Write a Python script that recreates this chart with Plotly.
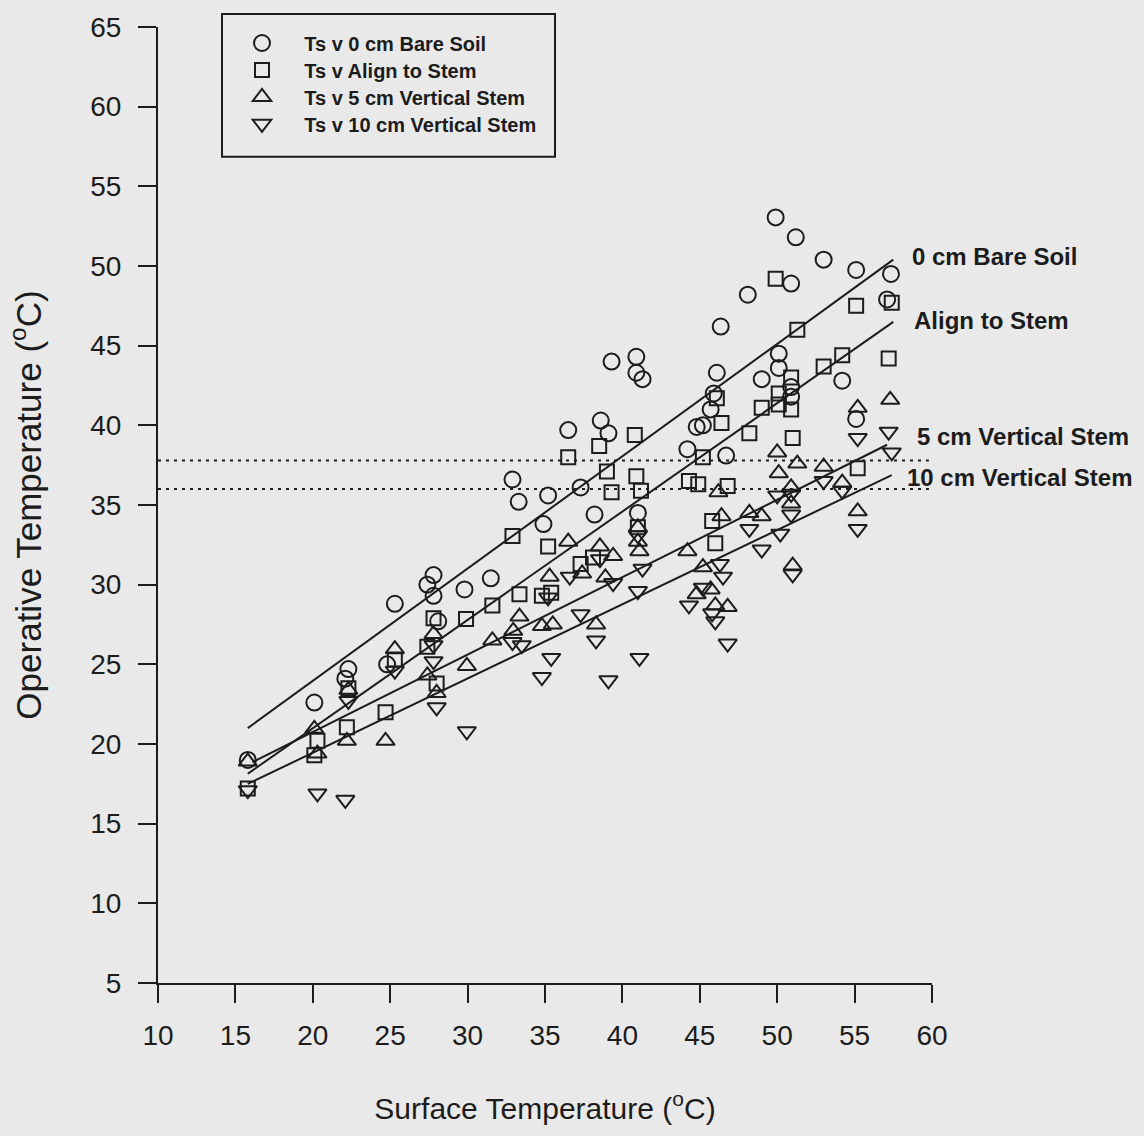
import plotly.graph_objects as go

# Operative temperature of four model positions against soil surface temperature (deg C)
bare_x = [15.8, 20.1, 22.1, 22.3, 24.8, 25.3, 27.4, 27.8, 27.8, 28.1, 29.8, 31.5, 32.9, 33.3,
          34.9, 35.2, 36.5, 37.3, 38.2, 38.6, 39.1, 39.3, 40.9, 40.9, 41.3, 41.0, 44.2, 44.8,
          45.2, 45.7, 45.9, 46.1, 46.35, 46.7, 48.1, 49.0, 49.9, 50.1, 50.1, 50.9, 50.9, 50.9,
          51.2, 53.0, 54.2, 55.1, 55.1, 57.1, 57.35]
bare_y = [19.0, 22.6, 24.1, 24.7, 25.0, 28.8, 30.0, 30.6, 29.3, 27.7, 29.7, 30.4, 36.6, 35.2,
          33.8, 35.6, 39.7, 36.1, 34.4, 40.3, 39.5, 44.0, 44.3, 43.3, 42.9, 34.5, 38.5, 39.9,
          40.0, 41.0, 42.0, 43.3, 46.2, 38.1, 48.2, 42.9, 53.05, 44.5, 43.6, 48.9, 42.4, 41.8,
          51.8, 50.4, 42.8, 49.75, 40.4, 47.9, 49.5]

align_x = [15.8, 20.3, 20.1, 22.2, 22.3, 24.7, 25.3, 27.4, 27.8, 28.0, 29.9, 31.6, 32.9, 33.35,
           34.8, 35.4, 35.2, 36.5, 37.3, 38.1, 38.5, 39.0, 39.3, 40.8, 40.9, 41.0, 41.2, 44.3,
           44.9, 45.2, 45.8, 46.0, 46.1, 46.4, 46.8, 48.2, 49.0, 49.9, 50.1, 50.1, 50.9, 50.9,
           51.0, 51.3, 53.0, 54.2, 55.1, 55.2, 57.2, 57.4]
align_y = [17.2, 20.2, 19.3, 21.05, 23.5, 22.0, 25.3, 26.1, 27.9, 23.8, 27.85, 28.7, 33.05, 29.4,
           29.3, 29.5, 32.4, 38.0, 31.3, 31.7, 38.7, 37.1, 35.8, 39.4, 36.8, 33.6, 35.9, 36.5,
           36.3, 38.0, 34.0, 32.6, 41.7, 40.15, 36.2, 39.5, 41.1, 49.2, 42.0, 41.3, 43.0, 41.0,
           39.2, 46.0, 43.7, 44.4, 47.5, 37.3, 44.2, 47.7]

v5_x = [15.8, 20.1, 20.3, 22.2, 22.3, 24.7, 25.3, 27.4, 27.8, 28.0, 29.95, 31.6, 32.95, 33.35,
        34.8, 35.5, 35.3, 36.5, 37.4, 38.3, 38.55, 38.9, 39.4, 41.0, 41.0, 41.1, 44.2, 44.8,
        45.2, 45.7, 46.0, 46.8, 46.2, 46.4, 48.2, 49.0, 50.0, 50.1, 50.9, 50.9, 51.0, 51.3,
        53.0, 54.2, 55.2, 55.2, 57.3]
v5_y = [18.9, 20.95, 19.4, 20.2, 23.4, 20.2, 25.95, 24.3, 26.9, 23.2, 24.9, 26.5, 27.1, 28.0,
        27.4, 27.5, 30.5, 32.7, 30.7, 27.5, 32.4, 30.45, 31.8, 33.6, 32.7, 32.1, 32.1, 29.4,
        31.1, 29.7, 28.7, 28.6, 35.8, 34.3, 34.5, 34.3, 38.3, 37.0, 36.1, 35.1, 31.2, 37.6,
        37.4, 36.4, 41.1, 34.6, 41.6]

v10_x = [15.8, 20.3, 22.1, 22.3, 25.3, 27.8, 27.8, 28.0, 29.95, 32.9, 33.5, 34.8, 35.4, 35.2,
         36.6, 37.3, 38.3, 38.55, 39.1, 39.4, 41.0, 41.3, 41.0, 41.1, 44.3, 45.2, 45.8, 46.0,
         46.3, 46.5, 46.8, 48.2, 49.0, 50.0, 50.2, 50.9, 50.9, 51.0, 53.0, 54.2, 55.2, 55.2,
         57.2, 57.4]
v10_y = [17.1, 16.9, 16.5, 22.7, 24.6, 26.2, 25.2, 22.3, 20.8, 26.4, 26.2, 24.2, 25.4, 29.2,
         30.5, 28.15, 26.5, 31.6, 24.0, 30.1, 33.1, 31.0, 29.6, 25.4, 28.7, 29.8, 28.2, 27.7,
         31.3, 30.5, 26.3, 33.5, 32.2, 35.6, 33.2, 35.7, 34.4, 30.65, 36.5, 35.9, 39.2, 33.5,
         39.6, 38.3]

# Linear regressions: intercept, slope and fitted x-range for each series
fit_names = ["0 cm Bare Soil", "Align to Stem", "5 cm Vertical Stem", "10 cm Vertical Stem"]
fit_intercept = [9.86, 7.39, 11.03, 10.13]
fit_slope = [0.705, 0.680, 0.486, 0.466]
fit_xmin = [15.8, 15.8, 16.1, 15.8]
fit_xmax = [57.5, 57.5, 57.1, 57.4]
fit_label_x = [58.6, 58.7, 58.9, 58.25]
fit_label_y = [50.6, 46.6, 39.3, 36.75]

# Reference band (dotted horizontal lines)
band_levels = [37.8, 36.0]

x_ticks = list(range(10, 61, 5))
y_ticks = list(range(5, 66, 5))

INK = "#1c1c1c"
BG = "#e9e9e9"
FONT = "Arial, Liberation Sans, sans-serif"

# pixel layout of the plotting area
W, H = 1144, 1136
ML, MR, MT, MB = 158, 212, 25, 153
PW, PH = W - ML - MR, H - MT - MB


def px_to_paper(px, py):
    return (px - ML) / PW, (H - MB - py) / PH


fig = go.Figure()

# dotted reference lines
for lvl in band_levels:
    fig.add_trace(go.Scatter(x=[10, 59.8], y=[lvl, lvl], mode="lines",
                             line=dict(color=INK, width=2, dash="3px,5px"),
                             showlegend=False, hoverinfo="skip"))

# regression lines
for b0, b1, x0, x1 in zip(fit_intercept, fit_slope, fit_xmin, fit_xmax):
    fig.add_trace(go.Scatter(x=[x0, x1], y=[b0 + b1 * x0, b0 + b1 * x1], mode="lines",
                             line=dict(color=INK, width=2),
                             showlegend=False, hoverinfo="skip"))

series = [
    ("Ts v 0 cm Bare Soil", bare_x, bare_y, "circle-open", 16),
    ("Ts v Align to Stem", align_x, align_y, "square-open", 14),
    ("Ts v 5 cm Vertical Stem", v5_x, v5_y, "triangle-up-open", 16),
    ("Ts v 10 cm Vertical Stem", v10_x, v10_y, "triangle-down-open", 16),
]
legend_ids = ["legend", "legend2", "legend3", "legend4"]
legend_rows = [44, 71, 98, 125]
NBSP = "\u00a0"

legend_layouts = {}
for (name, xs, ys, sym, sz), lid, row in zip(series, legend_ids, legend_rows):
    fig.add_trace(go.Scatter(x=xs, y=ys, mode="markers", name=NBSP * 4 + name, legend=lid,
                             marker=dict(symbol=sym, size=sz, color=INK,
                                         line=dict(color=INK, width=2))))
    lx, ly = px_to_paper(223, row - 22.5)
    legend_layouts[lid] = dict(x=lx, y=ly, xanchor="left", yanchor="top",
                               bgcolor="rgba(0,0,0,0)", borderwidth=0,
                               font=dict(family=FONT, size=20, color=INK, weight="bold"),
                               indentation=19, itemsizing="trace")

# legend frame
bx0, by0 = px_to_paper(222, 155)
bx1, by1 = px_to_paper(555, 12)
fig.add_shape(type="rect", xref="paper", yref="paper", x0=bx0, y0=by0, x1=bx1, y1=by1,
              line=dict(color=INK, width=2), fillcolor="rgba(0,0,0,0)")

for txt, lx, ly in zip(fit_names, fit_label_x, fit_label_y):
    fig.add_annotation(x=lx, y=ly, xref="x", yref="y", text=txt, showarrow=False,
                       xanchor="left", yanchor="middle",
                       font=dict(family=FONT, size=24, color=INK, weight="bold"))

axis_common = dict(showgrid=False, zeroline=False, showline=True, linecolor=INK, linewidth=2,
                   ticks="outside", ticklen=18, tickwidth=2, tickcolor=INK,
                   tickfont=dict(family=FONT, size=28, color=INK))

fig.update_xaxes(range=[10, 60], tickvals=x_ticks, ticklabelstandoff=8,
                 title=dict(text="Surface Temperature (<sup>o</sup>C)", standoff=48,
                            font=dict(family=FONT, size=30, color=INK)),
                 **axis_common)
fig.update_yaxes(range=[5, 65], tickvals=y_ticks, ticklabelstandoff=11,
                 title=dict(text="Operative Temperature (<sup>o</sup>C)", standoff=38,
                            font=dict(family=FONT, size=35, color=INK)),
                 **axis_common)

fig.update_layout(
    width=W, height=H,
    margin=dict(l=ML, r=MR, t=MT, b=MB),
    paper_bgcolor=BG, plot_bgcolor=BG,
    font=dict(family=FONT, color=INK),
    **legend_layouts,
)

fig.write_html("out.html")
